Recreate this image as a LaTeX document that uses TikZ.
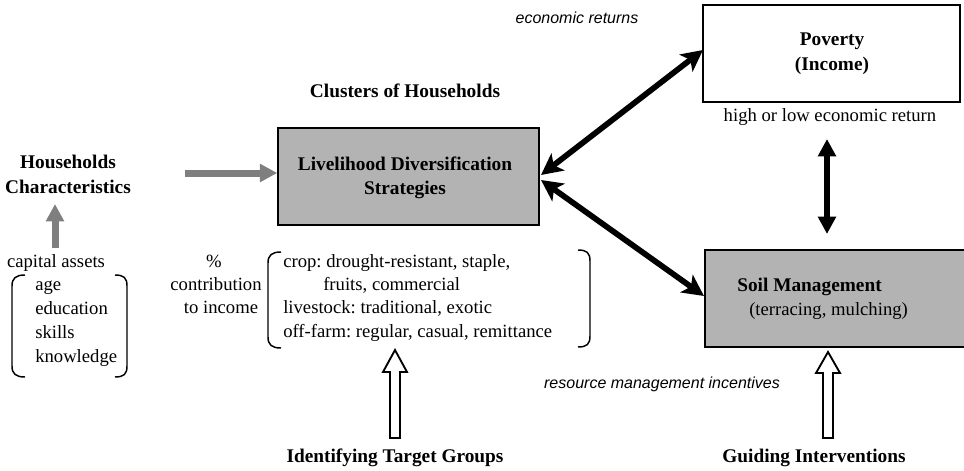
\documentclass[tikz,border=0pt]{standalone}
\usepackage{fontspec}
\setmainfont{Liberation Serif}
\newfontfamily\itsans{Liberation Sans}
\usetikzlibrary{arrows.meta,fit,calc}
\definecolor{boxgray}{HTML}{B3B3B3}
\definecolor{arrgray}{HTML}{7F7F7F}
\frenchspacing
\begin{document}
\begin{tikzpicture}[x=0.75pt,y=-0.75pt,
  txt/.style={inner sep=0pt, text height=0.7em, text depth=0.2em, font=\fontsize{14}{17}\selectfont},
  btxt/.style={inner sep=0pt, text height=0.7em, text depth=0.2em, font=\fontsize{14.5}{18}\selectfont\bfseries},
  itxt/.style={inner sep=0pt, text height=0.7em, text depth=0.2em, font=\fontsize{12}{14}\selectfont\itsans\itshape},
  box/.style={draw=black, line width=1.1pt, inner sep=0pt},
  grayarrow/.style={draw=arrgray, line width=5.25pt, -{Triangle[length=13pt,width=13pt]}},
  blkarrow/.style={draw=black, line width=4.3pt, {Stealth[length=16pt,width=16pt,inset=4pt]}-{Stealth[length=16pt,width=16pt,inset=4pt]}},
  vblkarrow/.style={draw=black, line width=4.2pt, {Triangle[length=13pt,width=13pt]}-{Triangle[length=13pt,width=13pt]}},
  bracket/.style={draw=black, line width=1.1pt},
  hollow/.style={draw=black, fill=white, line width=1.4pt, line join=miter},
]
\useasboundingbox (0,0) rectangle (964,471);

% boxes
\node[box, fill=white, fit={(703,5)(960,102)}] (pov) {};
\node[box, fill=boxgray, fit={(278,128)(539,225)}] (liv) {};
\node[box, fill=boxgray, fit={(705,250)(967,347)}] (soil) {};

% box texts
\node[btxt] (povt1) at (832,42) {Poverty};
\node[btxt] (povt2) at (832,67) {(Income)};
\node[btxt] (livt1) at (405,167) {Livelihood Diversification};
\node[btxt] (livt2) at (405,191) {Strategies};
\node[btxt, anchor=west] (soilt1) at (737,288) {Soil Management};
\node[txt, anchor=west] (soilt2) at (749,312) {(terracing, mulching)};

% labels
\node[itxt] (econ) at (577,20) {economic returns};
\node[txt] (hlr) at (830,118) {high or low economic return};
\node[btxt] (clus) at (405,94) {Clusters of Households};
\node[btxt] (hhc1) at (68,165) {Households};
\node[btxt] (hhc2) at (68,190) {Characteristics};
\node[txt] (cap) at (56,264) {capital assets};
\node[txt, anchor=west] (l1) at (35,287) {age};
\node[txt, anchor=west] (l2) at (35,311) {education};
\node[txt, anchor=west] (l3) at (35,335) {skills};
\node[txt, anchor=west] (l4) at (35,359) {knowledge};
\node[txt] (pc1) at (214,264) {\%};
\node[txt] (pc2) at (216,287) {contribution};
\node[txt] (pc3) at (221,310) {to income};
\node[txt, anchor=west] (m1) at (283,264) {crop: drought-resistant, staple,};
\node[txt, anchor=west] (m2) at (323,287) {fruits, commercial};
\node[txt, anchor=west] (m3) at (283,310) {livestock: traditional, exotic};
\node[txt, anchor=west] (m4) at (283,334) {off-farm: regular, casual, remittance};
\node[itxt] (res) at (662,385) {resource management incentives};
\node[btxt] (tg) at (395,459) {Identifying Target Groups};
\node[btxt] (gi) at (814,459) {Guiding Interventions};

% brackets
\draw[bracket] (25,275) .. controls (16,275) and (12,278) .. (12,286) -- (12,366) .. controls (12,374) and (16,377) .. (25,377);
\draw[bracket] (115,275) .. controls (124,275) and (127,278) .. (127,286) -- (127,366) .. controls (127,374) and (124,377) .. (115,377);
\draw[bracket] (281,252) .. controls (272,252) and (268,255) .. (268,263) -- (268,337) .. controls (268,345) and (272,348) .. (281,348);
\draw[bracket] (578,250) .. controls (587,250) and (590,253) .. (590,261) -- (590,336) .. controls (590,344) and (587,347) .. (578,347);

% gray arrows
\coordinate (ha) at (185,173);
\draw[grayarrow] (ha) -- (ha -| liv.west);
\coordinate (va) at (55,248);
\coordinate (vb) at (55,204);
\draw[grayarrow] (va) -- (vb);

% black double arrows
\coordinate (le1) at (541,175);
\coordinate (pw) at (703,50);
\coordinate (le2) at (541,180);
\coordinate (sw) at (704,296);
\draw[blkarrow] (le1) -- (pw);
\draw[blkarrow] (le2) -- (sw);
\coordinate (vt) at (827,139);
\coordinate (vbt) at (827,234);
\draw[vblkarrow] (vt) -- (vbt);

% hollow arrows
\draw[hollow] (390,438) -- (390,372) -- (383,372) -- (395,350) -- (407,372) -- (400,372) -- (400,438) -- cycle;
\draw[hollow] (823,438) -- (823,373) -- (816,373) -- (828,352) -- (840,373) -- (833,373) -- (833,438) -- cycle;
\end{tikzpicture}
\end{document}
